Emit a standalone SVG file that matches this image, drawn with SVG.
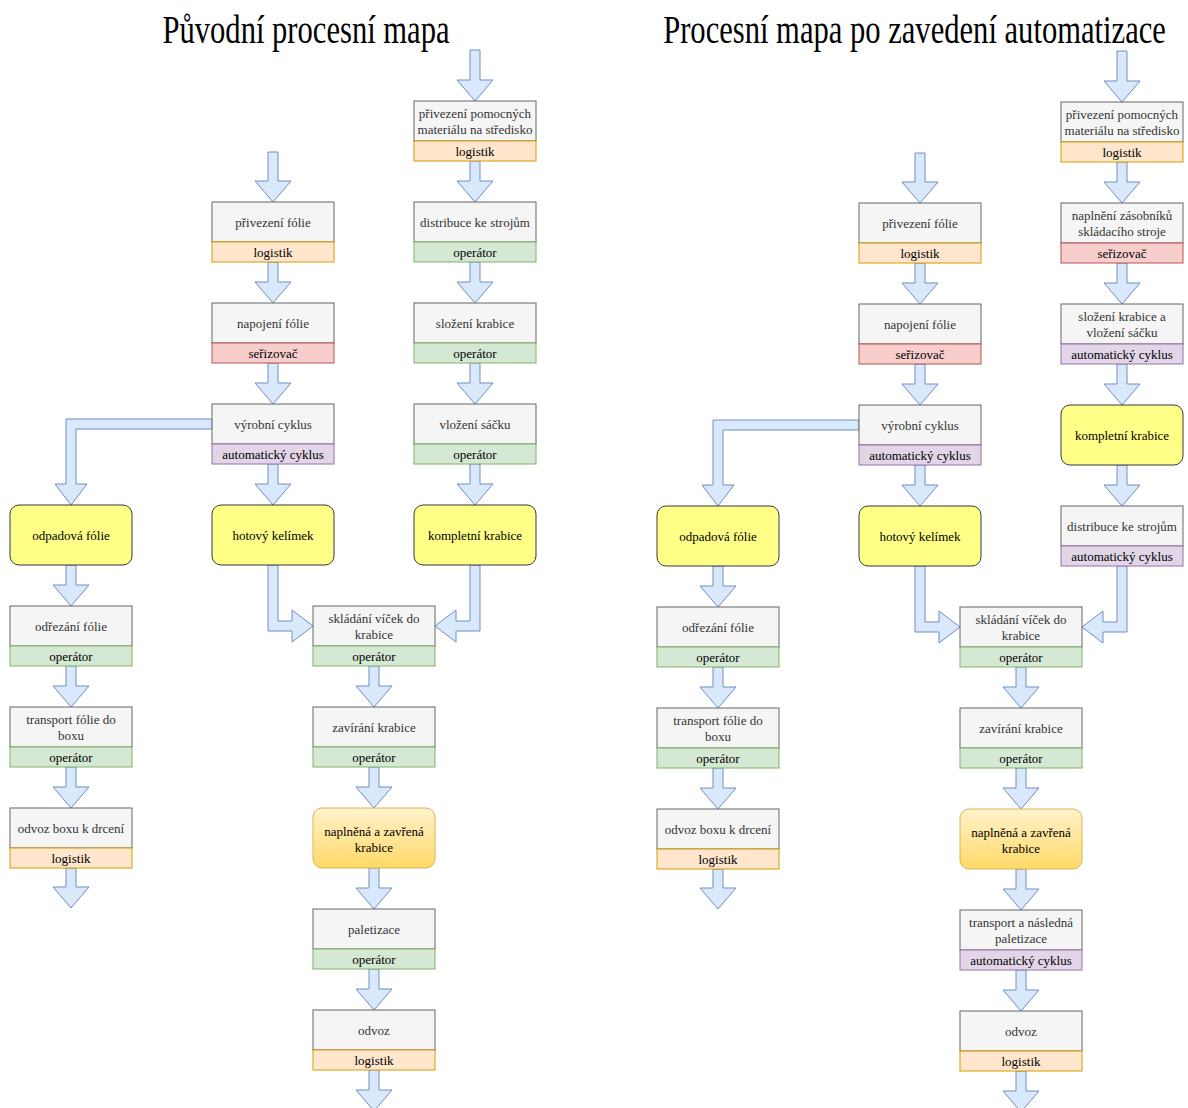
<svg xmlns="http://www.w3.org/2000/svg" width="1188" height="1108" viewBox="0 0 1188 1108">
<defs>
<linearGradient id="gold" x1="0" y1="0" x2="0" y2="1">
<stop offset="0" stop-color="#fff2cc"/>
<stop offset="1" stop-color="#ffd966"/>
</linearGradient>
<style>
.box{fill:#f5f5f5;stroke:#666666;stroke-width:1}
.log{fill:#ffe6cc;stroke:#d79b00;stroke-width:1}
.op{fill:#d5e8d4;stroke:#82b366;stroke-width:1}
.ser{fill:#f8cecc;stroke:#b85450;stroke-width:1}
.aut{fill:#e1d5e7;stroke:#9673a6;stroke-width:1}
.yel{fill:#ffff88;stroke:#36393d;stroke-width:1}
.gold{fill:url(#gold);stroke:#d6b656;stroke-width:1}
.arr{fill:#dae8fc;stroke:#6c8ebf;stroke-width:1}
text{font-family:"Liberation Serif","Times New Roman",serif;font-size:13px;text-anchor:middle}
.t{fill:#333333}
.s{fill:#000000}
.title{font-size:30.6px;fill:#000000}
</style>
</defs>
<rect width="1188" height="1108" fill="#ffffff"/>
<g transform="translate(306,43) scale(1,1.3)"><text class="title" x="0" y="0">Původní procesní mapa</text></g>
<g transform="translate(914.5,43) scale(1,1.3)"><text class="title" x="0" y="0">Procesní mapa po zavedení automatizace</text></g>

<g id="connectors">
<!-- left: straight arrows -->
<polygon class="arr" points="470,50 480,50 480,80 493,80 475,101 457,80 470,80"/>
<polygon class="arr" points="470,161 480,161 480,181 493,181 475,202 457,181 470,181"/>
<polygon class="arr" points="470,262 480,262 480,282 493,282 475,303 457,282 470,282"/>
<polygon class="arr" points="470,363 480,363 480,383 493,383 475,404 457,383 470,383"/>
<polygon class="arr" points="470,464 480,464 480,484 493,484 475,505 457,484 470,484"/>
<polygon class="arr" points="268,152 278,152 278,181 291,181 273,202 255,181 268,181"/>
<polygon class="arr" points="268,262 278,262 278,282 291,282 273,303 255,282 268,282"/>
<polygon class="arr" points="268,363 278,363 278,383 291,383 273,404 255,383 268,383"/>
<polygon class="arr" points="268,464 278,464 278,484 291,484 273,505 255,484 268,484"/>
<polygon class="arr" points="66,565 76,565 76,585 89,585 71,606 53,585 66,585"/>
<polygon class="arr" points="66,666 76,666 76,686 89,686 71,707 53,686 66,686"/>
<polygon class="arr" points="66,767 76,767 76,787 89,787 71,808 53,787 66,787"/>
<polygon class="arr" points="66,868 76,868 76,887 89,887 71,908 53,887 66,887"/>
<polygon class="arr" points="369,666 379,666 379,686 392,686 374,707 356,686 369,686"/>
<polygon class="arr" points="369,767 379,767 379,787 392,787 374,808 356,787 369,787"/>
<polygon class="arr" points="369,868 379,868 379,888 392,888 374,909 356,888 369,888"/>
<polygon class="arr" points="369,969 379,969 379,989 392,989 374,1010 356,989 369,989"/>
<polygon class="arr" points="369,1070 379,1070 379,1090 392,1090 374,1111 356,1090 369,1090"/>
<!-- left: bent arrows -->
<polygon class="arr" points="212,419 66,419 66,484 55,484 71,505 87,484 76,484 76,429 212,429"/>
<polygon class="arr" points="268,565 268,631 292,631 292,642 313,626 292,610 292,621 278,621 278,565"/>
<polygon class="arr" points="480,565 480,631 456,631 456,642 435,626 456,610 456,621 470,621 470,565"/>
<!-- right: straight arrows -->
<polygon class="arr" points="1117,51 1127,51 1127,81 1140,81 1122,102 1104,81 1117,81"/>
<polygon class="arr" points="1117,162 1127,162 1127,182 1140,182 1122,203 1104,182 1117,182"/>
<polygon class="arr" points="1117,263 1127,263 1127,283 1140,283 1122,304 1104,283 1117,283"/>
<polygon class="arr" points="1117,465 1127,465 1127,485 1140,485 1122,506 1104,485 1117,485"/>
<polygon class="arr" points="1117,364 1127,364 1127,384 1140,384 1122,405 1104,384 1117,384"/>
<polygon class="arr" points="915,153 925,153 925,182 938,182 920,203 902,182 915,182"/>
<polygon class="arr" points="915,263 925,263 925,283 938,283 920,304 902,283 915,283"/>
<polygon class="arr" points="915,364 925,364 925,384 938,384 920,405 902,384 915,384"/>
<polygon class="arr" points="915,465 925,465 925,485 938,485 920,506 902,485 915,485"/>
<polygon class="arr" points="713,566 723,566 723,586 736,586 718,607 700,586 713,586"/>
<polygon class="arr" points="713,667 723,667 723,687 736,687 718,708 700,687 713,687"/>
<polygon class="arr" points="713,768 723,768 723,788 736,788 718,809 700,788 713,788"/>
<polygon class="arr" points="713,869 723,869 723,888 736,888 718,909 700,888 713,888"/>
<polygon class="arr" points="1016,667 1026,667 1026,687 1039,687 1021,708 1003,687 1016,687"/>
<polygon class="arr" points="1016,768 1026,768 1026,788 1039,788 1021,809 1003,788 1016,788"/>
<polygon class="arr" points="1016,869 1026,869 1026,889 1039,889 1021,910 1003,889 1016,889"/>
<polygon class="arr" points="1016,970 1026,970 1026,990 1039,990 1021,1011 1003,990 1016,990"/>
<polygon class="arr" points="1016,1071 1026,1071 1026,1091 1039,1091 1021,1112 1003,1091 1016,1091"/>
<!-- right: bent arrows -->
<polygon class="arr" points="859,420 713,420 713,485 702,485 718,506 734,485 723,485 723,430 859,430"/>
<polygon class="arr" points="915,566 915,632 939,632 939,643 960,627 939,611 939,622 925,622 925,566"/>
<polygon class="arr" points="1127,566 1127,632 1103,632 1103,643 1082,627 1103,611 1103,622 1117,622 1117,566"/>
</g>

<!-- ===== LEFT DIAGRAM ===== -->
<g id="L-privezeni-pomocnych">
<rect class="box" x="414" y="101" width="122" height="40"/><rect class="log" x="414" y="141" width="122" height="20"/>
<text class="t" x="475" y="118">přivezení pomocných</text><text class="t" x="475" y="134">materiálu na středisko</text>
<text class="s" x="475" y="155.5">logistik</text>
</g>
<g id="L-distribuce">
<rect class="box" x="414" y="202" width="122" height="40"/><rect class="op" x="414" y="242" width="122" height="20"/>
<text class="t" x="475" y="226.5">distribuce ke strojům</text><text class="s" x="475" y="256.5">operátor</text>
</g>
<g id="L-slozeni">
<rect class="box" x="414" y="303" width="122" height="40"/><rect class="op" x="414" y="343" width="122" height="20"/>
<text class="t" x="475" y="327.5">složení krabice</text><text class="s" x="475" y="357.5">operátor</text>
</g>
<g id="L-vlozeni">
<rect class="box" x="414" y="404" width="122" height="40"/><rect class="op" x="414" y="444" width="122" height="20"/>
<text class="t" x="475" y="428.5">vložení sáčku</text><text class="s" x="475" y="458.5">operátor</text>
</g>
<g id="L-kompletni">
<rect class="yel" x="414" y="505" width="122" height="60" rx="9"/>
<text class="s" x="475" y="539.5">kompletní krabice</text>
</g>
<g id="L-privezeni-folie">
<rect class="box" x="212" y="202" width="122" height="40"/><rect class="log" x="212" y="242" width="122" height="20"/>
<text class="t" x="273" y="226.5">přivezení fólie</text><text class="s" x="273" y="256.5">logistik</text>
</g>
<g id="L-napojeni">
<rect class="box" x="212" y="303" width="122" height="40"/><rect class="ser" x="212" y="343" width="122" height="20"/>
<text class="t" x="273" y="327.5">napojení fólie</text><text class="s" x="273" y="357.5">seřizovač</text>
</g>
<g id="L-vyrobni">
<rect class="box" x="212" y="404" width="122" height="40"/><rect class="aut" x="212" y="444" width="122" height="20"/>
<text class="t" x="273" y="428.5">výrobní cyklus</text><text class="s" x="273" y="458.5">automatický cyklus</text>
</g>
<g id="L-hotovy">
<rect class="yel" x="212" y="505" width="122" height="60" rx="9"/>
<text class="s" x="273" y="539.5">hotový kelímek</text>
</g>
<g id="L-odpadova">
<rect class="yel" x="10" y="505" width="122" height="60" rx="9"/>
<text class="s" x="71" y="539.5">odpadová fólie</text>
</g>
<g id="L-odrezani">
<rect class="box" x="10" y="606" width="122" height="40"/><rect class="op" x="10" y="646" width="122" height="20"/>
<text class="t" x="71" y="630.5">odřezání fólie</text><text class="s" x="71" y="660.5">operátor</text>
</g>
<g id="L-transport">
<rect class="box" x="10" y="707" width="122" height="40"/><rect class="op" x="10" y="747" width="122" height="20"/>
<text class="t" x="71" y="724">transport fólie do</text><text class="t" x="71" y="740">boxu</text>
<text class="s" x="71" y="761.5">operátor</text>
</g>
<g id="L-odvoz-boxu">
<rect class="box" x="10" y="808" width="122" height="40"/><rect class="log" x="10" y="848" width="122" height="20"/>
<text class="t" x="71" y="832.5">odvoz boxu k drcení</text><text class="s" x="71" y="862.5">logistik</text>
</g>
<g id="L-skladani">
<rect class="box" x="313" y="606" width="122" height="40"/><rect class="op" x="313" y="646" width="122" height="20"/>
<text class="t" x="374" y="623">skládání víček do</text><text class="t" x="374" y="639">krabice</text>
<text class="s" x="374" y="660.5">operátor</text>
</g>
<g id="L-zavirani">
<rect class="box" x="313" y="707" width="122" height="40"/><rect class="op" x="313" y="747" width="122" height="20"/>
<text class="t" x="374" y="731.5">zavírání krabice</text><text class="s" x="374" y="761.5">operátor</text>
</g>
<g id="L-naplnena">
<rect class="gold" x="313" y="808" width="122" height="60" rx="9"/>
<text class="s" x="374" y="835.5">naplněná a zavřená</text><text class="s" x="374" y="851.5">krabice</text>
</g>
<g id="L-paletizace">
<rect class="box" x="313" y="909" width="122" height="40"/><rect class="op" x="313" y="949" width="122" height="20"/>
<text class="t" x="374" y="933.5">paletizace</text><text class="s" x="374" y="963.5">operátor</text>
</g>
<g id="L-odvoz">
<rect class="box" x="313" y="1010" width="122" height="40"/><rect class="log" x="313" y="1050" width="122" height="20"/>
<text class="t" x="374" y="1034.5">odvoz</text><text class="s" x="374" y="1064.5">logistik</text>
</g>

<!-- ===== RIGHT DIAGRAM ===== -->
<g id="R-privezeni-pomocnych">
<rect class="box" x="1061" y="102" width="122" height="40"/><rect class="log" x="1061" y="142" width="122" height="20"/>
<text class="t" x="1122" y="119">přivezení pomocných</text><text class="t" x="1122" y="135">materiálu na středisko</text>
<text class="s" x="1122" y="156.5">logistik</text>
</g>
<g id="R-naplneni">
<rect class="box" x="1061" y="203" width="122" height="40"/><rect class="ser" x="1061" y="243" width="122" height="20"/>
<text class="t" x="1122" y="220">naplnění zásobníků</text><text class="t" x="1122" y="236">skládacího stroje</text>
<text class="s" x="1122" y="257.5">seřizovač</text>
</g>
<g id="R-slozeni">
<rect class="box" x="1061" y="304" width="122" height="40"/><rect class="aut" x="1061" y="344" width="122" height="20"/>
<text class="t" x="1122" y="321">složení krabice a</text><text class="t" x="1122" y="337">vložení sáčku</text>
<text class="s" x="1122" y="358.5">automatický cyklus</text>
</g>
<g id="R-kompletni">
<rect class="yel" x="1061" y="405" width="122" height="60" rx="9"/>
<text class="s" x="1122" y="439.5">kompletní krabice</text>
</g>
<g id="R-distribuce">
<rect class="box" x="1061" y="506" width="122" height="40"/><rect class="aut" x="1061" y="546" width="122" height="20"/>
<text class="t" x="1122" y="530.5">distribuce ke strojům</text><text class="s" x="1122" y="560.5">automatický cyklus</text>
</g>
<g id="R-privezeni-folie">
<rect class="box" x="859" y="203" width="122" height="40"/><rect class="log" x="859" y="243" width="122" height="20"/>
<text class="t" x="920" y="227.5">přivezení fólie</text><text class="s" x="920" y="257.5">logistik</text>
</g>
<g id="R-napojeni">
<rect class="box" x="859" y="304" width="122" height="40"/><rect class="ser" x="859" y="344" width="122" height="20"/>
<text class="t" x="920" y="328.5">napojení fólie</text><text class="s" x="920" y="358.5">seřizovač</text>
</g>
<g id="R-vyrobni">
<rect class="box" x="859" y="405" width="122" height="40"/><rect class="aut" x="859" y="445" width="122" height="20"/>
<text class="t" x="920" y="429.5">výrobní cyklus</text><text class="s" x="920" y="459.5">automatický cyklus</text>
</g>
<g id="R-hotovy">
<rect class="yel" x="859" y="506" width="122" height="60" rx="9"/>
<text class="s" x="920" y="540.5">hotový kelímek</text>
</g>
<g id="R-odpadova">
<rect class="yel" x="657" y="506" width="122" height="60" rx="9"/>
<text class="s" x="718" y="540.5">odpadová fólie</text>
</g>
<g id="R-odrezani">
<rect class="box" x="657" y="607" width="122" height="40"/><rect class="op" x="657" y="647" width="122" height="20"/>
<text class="t" x="718" y="631.5">odřezání fólie</text><text class="s" x="718" y="661.5">operátor</text>
</g>
<g id="R-transport">
<rect class="box" x="657" y="708" width="122" height="40"/><rect class="op" x="657" y="748" width="122" height="20"/>
<text class="t" x="718" y="725">transport fólie do</text><text class="t" x="718" y="741">boxu</text>
<text class="s" x="718" y="762.5">operátor</text>
</g>
<g id="R-odvoz-boxu">
<rect class="box" x="657" y="809" width="122" height="40"/><rect class="log" x="657" y="849" width="122" height="20"/>
<text class="t" x="718" y="833.5">odvoz boxu k drcení</text><text class="s" x="718" y="863.5">logistik</text>
</g>
<g id="R-skladani">
<rect class="box" x="960" y="607" width="122" height="40"/><rect class="op" x="960" y="647" width="122" height="20"/>
<text class="t" x="1021" y="624">skládání víček do</text><text class="t" x="1021" y="640">krabice</text>
<text class="s" x="1021" y="661.5">operátor</text>
</g>
<g id="R-zavirani">
<rect class="box" x="960" y="708" width="122" height="40"/><rect class="op" x="960" y="748" width="122" height="20"/>
<text class="t" x="1021" y="732.5">zavírání krabice</text><text class="s" x="1021" y="762.5">operátor</text>
</g>
<g id="R-naplnena">
<rect class="gold" x="960" y="809" width="122" height="60" rx="9"/>
<text class="s" x="1021" y="836.5">naplněná a zavřená</text><text class="s" x="1021" y="852.5">krabice</text>
</g>
<g id="R-transport-paletizace">
<rect class="box" x="960" y="910" width="122" height="40"/><rect class="aut" x="960" y="950" width="122" height="20"/>
<text class="t" x="1021" y="927">transport a následná</text><text class="t" x="1021" y="943">paletizace</text>
<text class="s" x="1021" y="964.5">automatický cyklus</text>
</g>
<g id="R-odvoz">
<rect class="box" x="960" y="1011" width="122" height="40"/><rect class="log" x="960" y="1051" width="122" height="20"/>
<text class="t" x="1021" y="1035.5">odvoz</text><text class="s" x="1021" y="1065.5">logistik</text>
</g>
</svg>
